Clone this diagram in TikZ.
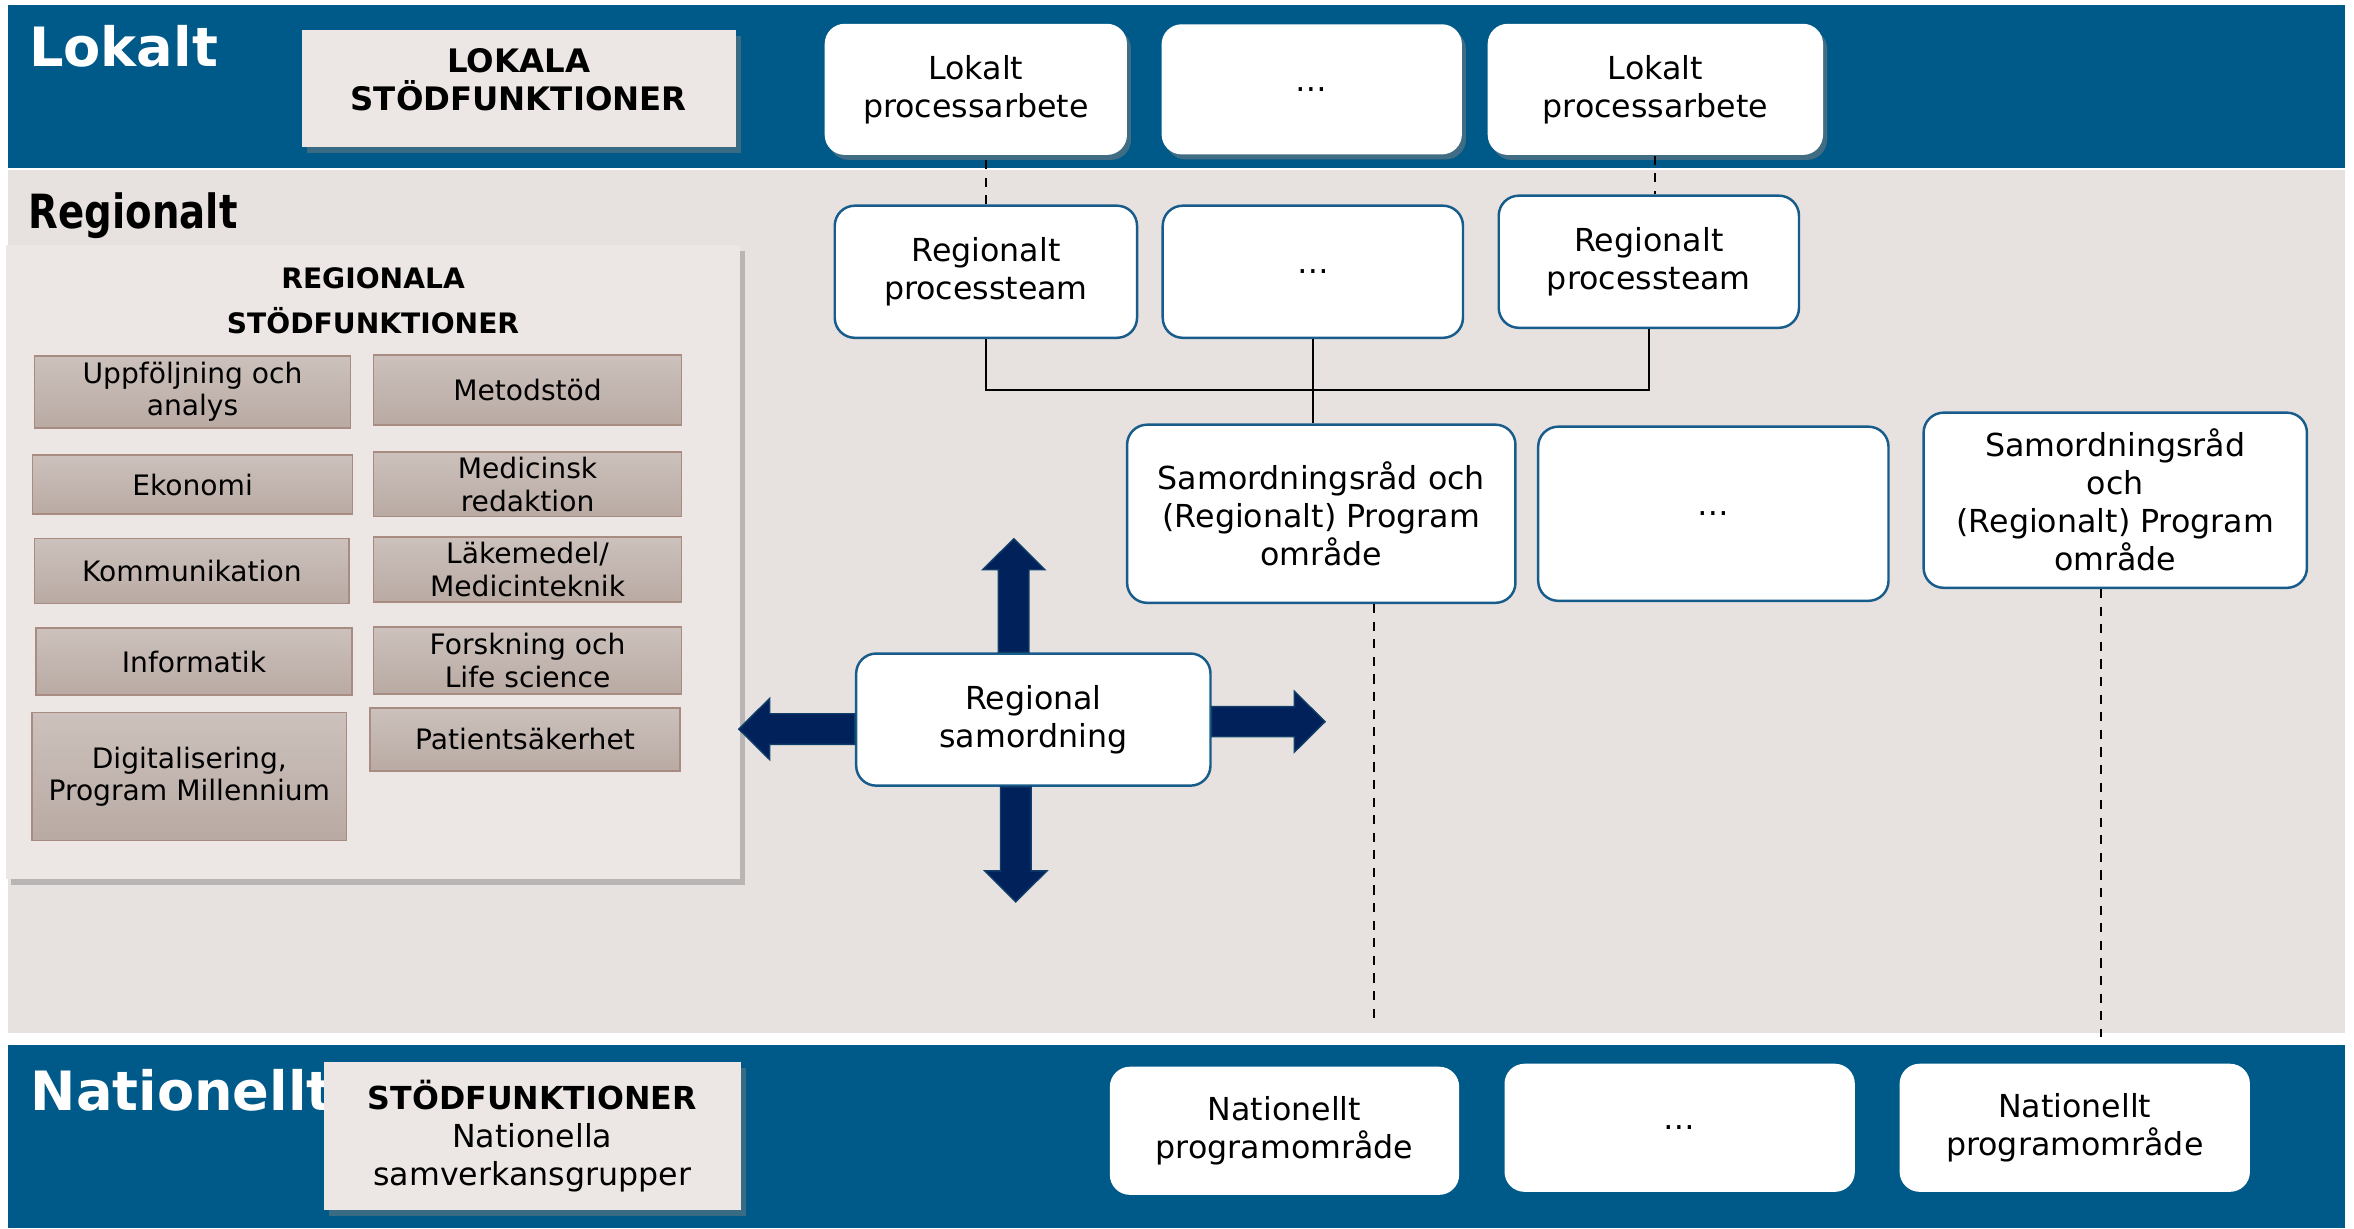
\documentclass[tikz,border=0pt]{standalone}
\usepackage{fontspec}
\setmainfont{DejaVu Sans}
\newfontfamily\narrowfont{DejaVu Sans}[FakeStretch=0.82]
\usetikzlibrary{positioning,shadows}

\definecolor{bandblue}{RGB}{0,90,137}
\definecolor{regionbg}{RGB}{231,226,223}
\definecolor{stodfill}{RGB}{236,231,228}
\definecolor{functop}{RGB}{204,193,188}
\definecolor{funcbot}{RGB}{185,170,163}
\definecolor{funcedge}{RGB}{168,140,130}
\definecolor{boxblue}{RGB}{24,92,140}
\definecolor{navy}{RGB}{0,33,90}
\definecolor{navyedge}{RGB}{16,62,104}

\begin{document}
\begin{tikzpicture}[
        x=0.015cm, y=-0.015cm,
        every node/.style={inner sep=0pt, align=center},
        boxfont/.style={font=\fontsize{9}{10.8}\selectfont},
        head/.style={anchor=base west, font=\bfseries\fontsize{15.4}{18}\selectfont},
        stodbox/.style={
                fill=stodfill,
                drop shadow={shadow xshift=0.05cm, shadow yshift=-0.06cm, opacity=0.45},
                boxfont
        },
        funcbox/.style={
                draw=funcedge,
                top color=functop,
                bottom color=funcbot,
                font=\fontsize{8}{9.3}\selectfont
        },
        procbox/.style={fill=white, rounded corners=0.2cm, boxfont},
        lokbox/.style={procbox, drop shadow={shadow xshift=0.04cm, shadow yshift=-0.05cm, opacity=0.5}},
        regbox/.style={procbox, draw=boxblue, line width=0.7pt},
        link/.style={line width=0.5pt},
        dashlink/.style={line width=0.5pt, dash pattern=on 2.6pt off 2.4pt},
        fatarrow/.style={fill=navy, draw=navyedge, line width=0.4pt}
    ]

    % Bands
    \fill[white] (0,0) rectangle (1568,818);
    \useasboundingbox (0,0) rectangle (1568,818);
    \fill[bandblue] (5,3) rectangle (1562,112);
    \fill[regionbg] (5,113) rectangle (1562,688);
    \fill[bandblue] (5,696) rectangle (1562,818);

    % Level headings
    \node[head, text=white] (lokalt) at (19,44.6) {Lokalt};
    \node[head, font=\narrowfont\bfseries\fontsize{13.4}{16}\selectfont] (regionalt) at (18.7,152) {Regionalt};
    \node[head, text=white] (nationellt) at (20,739.4) {Nationellt};

    % Support functions
    \node[stodbox, font=\bfseries\fontsize{9.2}{10.8}\selectfont, text depth=0.18cm,
          minimum width=4.335cm, minimum height=1.17cm] (lokstod) at (345.5,59) {LOKALA\\STÖDFUNKTIONER};
    \node[stodbox, minimum width=7.335cm, minimum height=6.34cm] (regstod) at (248.5,374.3) {};
    \node[font=\bfseries\fontsize{8}{12.8}\selectfont] (regstodtitle) at (248.5,200) {REGIONALA\\STÖDFUNKTIONER};
    \node[stodbox, minimum width=4.17cm, minimum height=1.48cm] (natstod) at (354.5,756.6)
        {\textbf{STÖDFUNKTIONER}\\Nationella\\samverkansgrupper};

    % Regional support boxes, left column
    \node[funcbox, minimum width=3.16cm, minimum height=0.72cm] (uppf) at (128.25,261) {Uppföljning och\\analys};
    \node[funcbox, minimum width=3.2cm, minimum height=0.59cm] (ekon) at (128.25,322.75) {Ekonomi};
    \node[funcbox, minimum width=3.14cm, minimum height=0.65cm] (komm) at (127.75,380.2) {Kommunikation};
    \node[funcbox, minimum width=3.16cm, minimum height=0.67cm] (info) at (129.2,440.7) {Informatik};
    \node[funcbox, minimum width=3.14cm, minimum height=1.28cm] (digi) at (126.1,517.3) {Digitalisering,\\Program Millennium};

    % Regional support boxes, right column
    \node[funcbox, minimum width=3.08cm, minimum height=0.70cm] (meto) at (351.4,259.8) {Metodstöd};
    \node[funcbox, minimum width=3.08cm, minimum height=0.645cm] (medi) at (351.4,322.5) {Medicinsk\\redaktion};
    \node[funcbox, minimum width=3.08cm, minimum height=0.65cm] (lake) at (351.4,379.4) {Läkemedel/\\Medicinteknik};
    \node[funcbox, minimum width=3.08cm, minimum height=0.67cm] (fors) at (351.4,440) {Forskning och\\Life science};
    \node[funcbox, minimum width=3.1cm, minimum height=0.63cm] (pati) at (349.7,492.5) {Patientsäkerhet};

    % Local process work
    \node[lokbox, minimum width=3.02cm, minimum height=1.31cm] (lp1) at (650,59.5) {Lokalt\\processarbete};
    \node[lokbox, minimum width=3.0cm, minimum height=1.30cm, right=0.332cm of lp1] (lokdots) {…};
    \node[lokbox, minimum width=3.35cm, minimum height=1.31cm, right=0.244cm of lokdots] (lp2) {Lokalt\\processarbete};

    % Regional process teams
    \node[regbox, minimum width=3.02cm, minimum height=1.32cm] (rp1) at (656.7,181) {Regionalt\\processteam};
    \node[regbox, minimum width=3.0cm, minimum height=1.32cm, right=0.232cm of rp1] (regdots) {…};
    \node[regbox, minimum width=3.0cm, minimum height=1.32cm, right=0.3325cm of regdots, yshift=0.1cm] (rp2) {Regionalt\\processteam};

    % Coordination councils
    \node[regbox, minimum width=3.88cm, minimum height=1.78cm] (sr1) at (880.1,342.2)
        {Samordningsråd och\\(Regionalt) Program\\område};
    \node[regbox, minimum width=3.5cm, minimum height=1.74cm, right=0.2025cm of sr1] (samdots) {…};
    \node[regbox, minimum width=3.83cm, minimum height=1.75cm, right=0.326cm of samdots, yshift=0.135cm] (sr2)
        {Samordningsråd\\och\\(Regionalt) Program\\område};

    % Regional coordination
    \node[regbox, minimum width=3.54cm, minimum height=1.32cm] (rs) at (688.3,479.3) {Regional\\samordning};

    % National programme areas
    \node[procbox, minimum width=3.49cm, minimum height=1.28cm] (np1) at (855.6,753.2) {Nationellt\\programområde};
    \node[procbox, minimum width=3.5cm, minimum height=1.28cm, right=0.439cm of np1, yshift=0.03cm] (natdots) {…};
    \node[procbox, minimum width=3.5cm, minimum height=1.28cm, right=0.4335cm of natdots] (np2) {Nationellt\\programområde};

    % Links between levels
    \draw[dashlink] (rp1.north) -- (rp1.north |- lp1.south);
    \draw[dashlink] (lp2.south) -- (lp2.south |- rp2.north);
    \draw[link, line width=0.7pt] (rp1.south) -- ++(0,34) -| (rp2.south);
    \draw[link] (regdots.south) -- (regdots.south |- sr1.north);

    \coordinate (sr1end) at (915,683);
    \coordinate (sr2end) at (1399.5,690.5);
    \draw[dashlink] (sr1end |- sr1.south) -- (sr1end);
    \draw[dashlink] (sr2end |- sr2.south) -- (sr2end);

    % Fat arrows out of the regional coordination
    \draw[fatarrow] (rs.north) ++(-23.3,0) -- ++(0,-55) -- ++(-10.5,0) -- ++(20.8,-20.6)
        -- ++(20.7,20.6) -- ++(-10.6,0) -- ++(0,55) -- cycle;
    \draw[fatarrow] (rs.south) ++(-21.9,0) -- ++(0,56) -- ++(-10.5,0) -- ++(20.7,20.6)
        -- ++(20.7,-20.6) -- ++(-10.5,0) -- ++(0,-56) -- cycle;
    \draw[fatarrow] (rs.west) ++(0,-3.9) -- ++(-56.8,0) -- ++(0,-10.2) -- ++(-20.6,20.4)
        -- ++(20.6,20.4) -- ++(0,-10.2) -- ++(56.8,0) -- cycle;
    \draw[fatarrow] (rs.east) ++(0,-8.6) -- ++(55,0) -- ++(0,-10.3) -- ++(20.5,20.3)
        -- ++(-20.5,20.3) -- ++(0,-10.3) -- ++(-55,0) -- cycle;

\end{tikzpicture}
\end{document}
